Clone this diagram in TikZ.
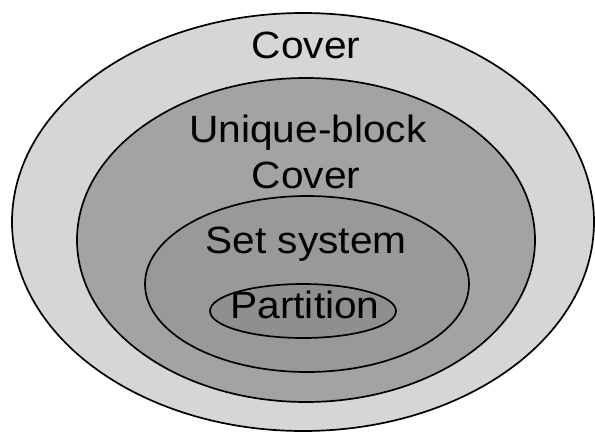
\documentclass[tikz,border=0pt]{standalone}
\usepackage{fontspec}
\setmainfont[FakeStretch=1.07]{Liberation Sans}
\usetikzlibrary{backgrounds}
\definecolor{coverfill}{gray}{0.84}
\definecolor{uniquefill}{gray}{0.64}
\definecolor{setfill}{gray}{0.60}
\definecolor{partfill}{gray}{0.56}

\begin{document}
\begin{tikzpicture}[x=1pt,y=-1pt,
  ring/.style={draw=black,line width=1.7pt},
  lbl/.style={anchor=base,inner sep=0pt,font=\fontsize{38}{44}\selectfont}]
\useasboundingbox (0,0) rectangle (595,432);
\fill[white] (0,0) rectangle (595,432);
% nested sets
\filldraw[ring,fill=coverfill] (303,222) ellipse [x radius=291pt,y radius=209pt];
\filldraw[ring,fill=uniquefill] (306,240) ellipse [x radius=229pt,y radius=162pt];
\filldraw[ring,fill=setfill] (307,284) ellipse [x radius=162pt,y radius=88pt];
\filldraw[ring,fill=partfill] (303,311) ellipse [x radius=93pt,y radius=27pt];
% labels
\node[lbl] (cover) at (306,58) {Cover};
\node[lbl] (unique) at (308,142) {Unique-block};
\node[lbl] (ucover) at (306,188) {Cover};
\node[lbl] (setsys) at (306,253) {Set system};
\node[lbl] (part) at (305,318) {Partition};
\end{tikzpicture}
\end{document}
